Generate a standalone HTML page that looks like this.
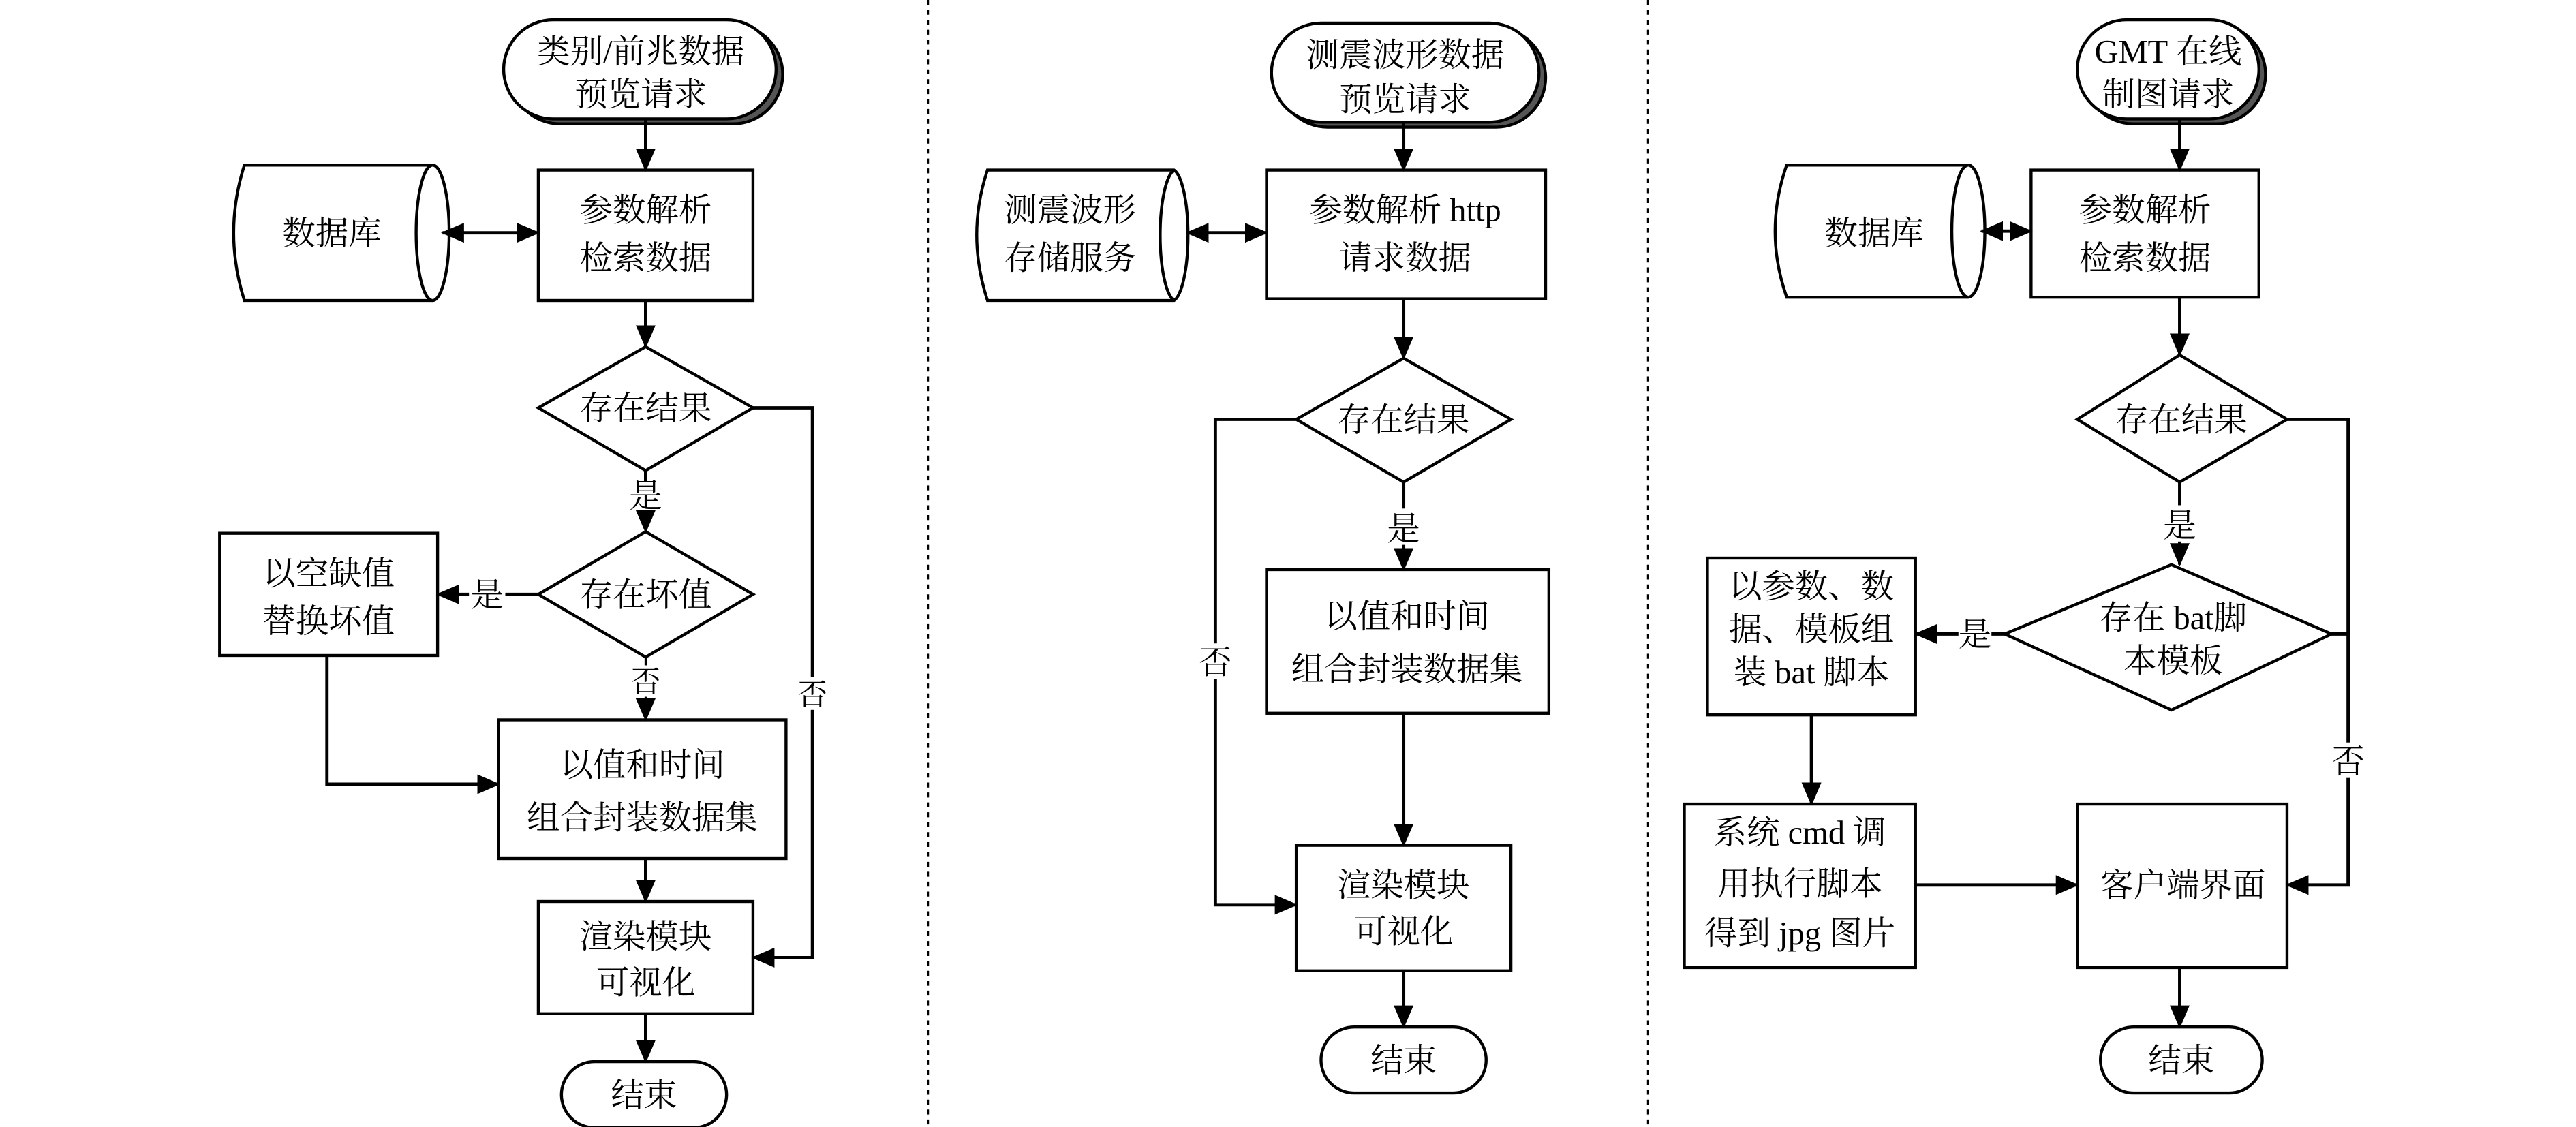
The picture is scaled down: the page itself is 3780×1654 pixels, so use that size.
<!DOCTYPE html>
<html><head><meta charset="utf-8"><style>
html,body{margin:0;padding:0;background:#fff;}
svg{display:block;}
text{font-family:"Liberation Serif","Noto Serif CJK SC",serif;font-size:20px;fill:#000;text-anchor:middle;}
</style></head><body>
<svg width="3780" height="1654" viewBox="0 0 1560 682.6" xmlns="http://www.w3.org/2000/svg">
<defs>
<marker id="a" markerUnits="userSpaceOnUse" markerWidth="14" markerHeight="12" refX="13" refY="6" orient="auto"><path d="M0,0 L14,6 L0,12 z" fill="#000"/></marker>
<marker id="b" markerUnits="userSpaceOnUse" markerWidth="14" markerHeight="12" refX="1" refY="6" orient="auto"><path d="M14,0 L0,6 L14,12 z" fill="#000"/></marker>
</defs>
<g fill="none" stroke="#000" stroke-width="1.2" stroke-dasharray="3,3">
<line x1="562" y1="0" x2="562" y2="682"/><line x1="998" y1="0" x2="998" y2="682"/>
</g>
<g fill="#fff" stroke="#000" stroke-width="1.8">
<!-- Panel 1 -->
<rect x="309" y="15" width="165" height="60" rx="30" fill="#555"/>
<rect x="305" y="12" width="165" height="60" rx="30"/>
<path d="M148,100 L262,100 A10,41 0 0 1 262,182 L148,182 Q135,141 148,100 z"/>
<path d="M262,100 A10,41 0 0 0 262,182"/>
<rect x="326" y="103" width="130" height="79"/>
<path d="M391,210 L456,247 L391,285 L326,247 z"/>
<path d="M391,322 L456,360 L391,398 L326,360 z"/>
<rect x="133" y="323" width="132" height="74"/>
<rect x="302" y="436" width="174" height="84"/>
<rect x="326" y="546" width="130" height="68"/>
<rect x="340" y="643" width="100" height="40" rx="20"/>
<!-- Panel 2 -->
<rect x="774" y="17" width="162" height="60" rx="30" fill="#555"/>
<rect x="770" y="14" width="162" height="60" rx="30"/>
<path d="M598,103 L711,103 A10,40 0 0 1 711,182 L598,182 Q585,142 598,103 z"/>
<path d="M711,103 A10,40 0 0 0 711,182"/>
<rect x="767" y="103" width="169" height="78"/>
<path d="M850,217 L915,254 L850,292 L785,254 z"/>
<rect x="767" y="345" width="171" height="87"/>
<rect x="785" y="512" width="130" height="76"/>
<rect x="800" y="622" width="100" height="40" rx="20"/>
<!-- Panel 3 -->
<rect x="1262" y="15" width="110" height="60" rx="30" fill="#555"/>
<rect x="1258" y="12" width="110" height="60" rx="30"/>
<path d="M1082,100 L1192,100 A10,40 0 0 1 1192,180 L1082,180 Q1068,140 1082,100 z"/>
<path d="M1192,100 A10,40 0 0 0 1192,180"/>
<rect x="1230" y="103" width="138" height="77"/>
<path d="M1320,215 L1385,254 L1320,292 L1258,254 z"/>
<path d="M1315,342 L1412,384 L1315,430 L1214,384 z"/>
<rect x="1034" y="338" width="126" height="95"/>
<rect x="1020" y="487" width="140" height="99"/>
<rect x="1258" y="487" width="127" height="99"/>
<rect x="1272" y="622" width="98" height="40" rx="20"/>
</g>
<g fill="none" stroke="#000" stroke-width="2">
<!-- Panel 1 connectors -->
<line x1="391" y1="72" x2="391" y2="103" marker-end="url(#a)"/>
<line x1="268" y1="141" x2="326" y2="141" marker-start="url(#b)" marker-end="url(#a)"/>
<line x1="391" y1="182" x2="391" y2="210" marker-end="url(#a)"/>
<polyline points="456,247 492,247 492,580 456,580" marker-end="url(#a)"/>
<line x1="391" y1="285" x2="391" y2="292" />
<line x1="391" y1="310" x2="391" y2="322" marker-end="url(#a)" stroke-width="1.3"/>
<line x1="326" y1="360" x2="306" y2="360"/>
<line x1="284" y1="360" x2="265" y2="360" marker-end="url(#a)"/>
<line x1="391" y1="398" x2="391" y2="403" stroke-width="1.3"/>
<line x1="391" y1="422" x2="391" y2="436" marker-end="url(#a)" stroke-width="1.3"/>
<polyline points="198,397 198,475 302,475" marker-end="url(#a)"/>
<line x1="391" y1="520" x2="391" y2="546" marker-end="url(#a)"/>
<line x1="391" y1="614" x2="391" y2="643" marker-end="url(#a)"/>
<!-- Panel 2 -->
<line x1="850" y1="74" x2="850" y2="103" marker-end="url(#a)"/>
<line x1="719" y1="141" x2="767" y2="141" marker-start="url(#b)" marker-end="url(#a)"/>
<line x1="850" y1="181" x2="850" y2="217" marker-end="url(#a)"/>
<polyline points="785,254 736,254 736,548 785,548" marker-end="url(#a)"/>
<line x1="850" y1="292" x2="850" y2="308"/>
<line x1="850" y1="330" x2="850" y2="345" marker-end="url(#a)"/>
<line x1="850" y1="432" x2="850" y2="512" marker-end="url(#a)"/>
<line x1="850" y1="588" x2="850" y2="622" marker-end="url(#a)"/>
<!-- Panel 3 -->
<line x1="1320" y1="72" x2="1320" y2="103" marker-end="url(#a)"/>
<line x1="1200" y1="140" x2="1230" y2="140" marker-start="url(#b)" marker-end="url(#a)"/>
<line x1="1320" y1="180" x2="1320" y2="215" marker-end="url(#a)"/>
<polyline points="1385,254 1422,254 1422,536 1385,536" marker-end="url(#a)"/>
<line x1="1412" y1="384" x2="1422" y2="384"/>
<line x1="1320" y1="292" x2="1320" y2="306"/>
<line x1="1320" y1="328" x2="1320" y2="342" marker-end="url(#a)"/>
<line x1="1214" y1="384" x2="1206" y2="384"/>
<line x1="1186" y1="384" x2="1160" y2="384" marker-end="url(#a)"/>
<line x1="1097" y1="433" x2="1097" y2="487" marker-end="url(#a)"/>
<line x1="1160" y1="536" x2="1258" y2="536" marker-end="url(#a)"/>
<line x1="1320" y1="586" x2="1320" y2="622" marker-end="url(#a)"/>
</g>
<g>
<text x="388" y="38">类别/前兆数据</text><text x="388" y="64">预览请求</text>
<text x="201" y="148">数据库</text>
<text x="391" y="134">参数解析</text><text x="391" y="163">检索数据</text>
<text x="391" y="254">存在结果</text>
<text x="391" y="307">是</text>
<text x="391" y="367">存在坏值</text>
<text x="295" y="367">是</text>
<text x="199" y="354">以空缺值</text><text x="199" y="383">替换坏值</text>
<text x="391" y="419" style="font-size:18px">否</text>
<text x="492" y="427" style="font-size:18px;paint-order:stroke;stroke:#fff;stroke-width:6">否</text>
<text x="389" y="470">以值和时间</text><text x="389" y="502">组合封装数据集</text>
<text x="391" y="574">渲染模块</text><text x="391" y="602">可视化</text>
<text x="390" y="670">结束</text>

<text x="851" y="40">测震波形数据</text><text x="851" y="67">预览请求</text>
<text x="648" y="134">测震波形</text><text x="648" y="163">存储服务</text>
<text x="851" y="134">参数解析 http</text><text x="851" y="163">请求数据</text>
<text x="850" y="261">存在结果</text>
<text x="850" y="327">是</text>
<text x="736" y="408" style="paint-order:stroke;stroke:#fff;stroke-width:6">否</text>
<text x="852" y="380">以值和时间</text><text x="852" y="412">组合封装数据集</text>
<text x="850" y="543">渲染模块</text><text x="850" y="571">可视化</text>
<text x="850" y="649">结束</text>

<text x="1313" y="38">GMT 在线</text><text x="1313" y="64">制图请求</text>
<text x="1135" y="148">数据库</text>
<text x="1299" y="134">参数解析</text><text x="1299" y="163">检索数据</text>
<text x="1321" y="261">存在结果</text>
<text x="1320" y="325">是</text>
<text x="1316" y="381">存在 bat脚</text><text x="1316" y="407">本模板</text>
<text x="1196" y="391">是</text>
<text x="1097" y="362">以参数、数</text><text x="1097" y="388">据、模板组</text><text x="1097" y="414">装 bat 脚本</text>
<text x="1090" y="511">系统 cmd 调</text><text x="1090" y="542">用执行脚本</text><text x="1090" y="572">得到 jpg 图片</text>
<text x="1322" y="543">客户端界面</text>
<text x="1422" y="468" style="paint-order:stroke;stroke:#fff;stroke-width:6">否</text>
<text x="1321" y="649">结束</text>
</g>
</svg>
</body></html>
